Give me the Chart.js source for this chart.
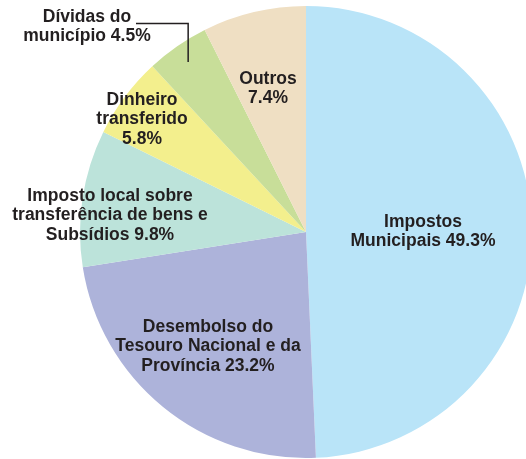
<!DOCTYPE html>
<html><head><meta charset="utf-8">
<script src="https://cdn.jsdelivr.net/npm/chart.js@4/dist/chart.umd.min.js"></script>
<style>html,body{margin:0;padding:0;background:#fff;overflow:hidden;width:526px;height:459px}canvas{display:block}</style>
</head><body>
<canvas id="c" width="612" height="459"></canvas>
<script>
const categories = ["Impostos Municipais","Desembolso do Tesouro Nacional e da Província","Imposto local sobre transferência de bens e Subsídios","Dinheiro transferido","Dívidas do município","Outros"];
const values = [49.3, 23.2, 9.8, 5.8, 4.5, 7.4];
const labelLines = [
  ["Impostos","Municipais"],
  ["Desembolso do","Tesouro Nacional e da","Província"],
  ["Imposto local sobre","transferência de bens e","Subsídios"],
  ["Dinheiro","transferido",""],
  ["Dívidas do","município"],
  ["Outros",""]
];
const colors = ["#b9e4f8","#adb3da","#bce3da","#f3ef8d","#c8de99","#efdfc3"];
// label anchor (centre of first line) in pixels, layout only
const labelPos = [[423,222],[208,327],[110,196],[142,100],[87,17],[268,79]];

const labelPlugin = {
  id:'labels',
  afterDraw(chart){
    const ctx = chart.ctx;
    ctx.save();
    ctx.font = 'bold 17.5px "Liberation Sans", Arial, sans-serif';
    ctx.fillStyle = '#231f20';
    ctx.textAlign = 'center';
    ctx.textBaseline = 'middle';
    values.forEach((v,i)=>{
      const lines = labelLines[i].slice();
      const last = lines.length-1;
      lines[last] = (lines[last] ? lines[last]+' ' : '') + v + '%';
      const [x,y] = labelPos[i];
      lines.forEach((t,j)=>ctx.fillText(t, x, y + j*19.5));
    });
    // leader line for Dívidas
    const arc = chart.getDatasetMeta(0).data[4];
    const mid = (arc.startAngle+arc.endAngle)/2;
    const r = arc.outerRadius*0.915;
    const ex = arc.x + Math.cos(mid)*r, ey = arc.y + Math.sin(mid)*r;
    ctx.strokeStyle = '#231f20';
    ctx.lineWidth = 1.5;
    ctx.beginPath();
    ctx.moveTo(136, 23.5);
    ctx.lineTo(ex, 23.5);
    ctx.lineTo(ex, ey);
    ctx.stroke();
    ctx.restore();
  }
};

new Chart(document.getElementById('c'), {
  type:'pie',
  data:{labels:categories, datasets:[{data:values, backgroundColor:colors, borderWidth:0}]},
  options:{
    responsive:false, animation:false,
    layout:{padding:{top:6,bottom:1,left:0,right:0}},
    plugins:{legend:{display:false}, tooltip:{enabled:false}}
  },
  plugins:[labelPlugin]
});
</script>
</body></html>
